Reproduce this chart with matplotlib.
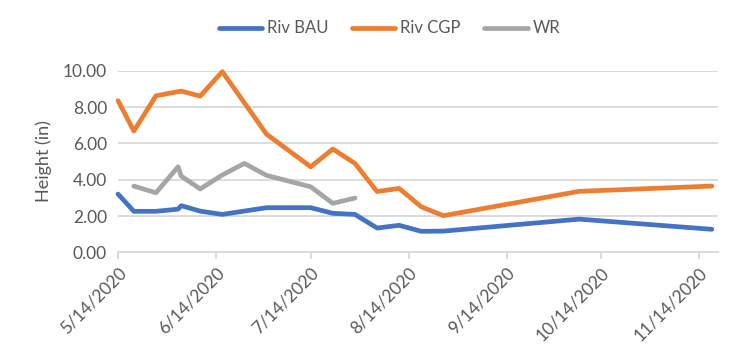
import matplotlib
matplotlib.use("Agg")
import matplotlib.pyplot as plt
import numpy as np
import pandas as pd

# sample dates (shared by all three series)
dates = ["2020-05-14", "2020-05-19", "2020-05-26", "2020-06-02", "2020-06-03",
         "2020-06-09", "2020-06-16", "2020-06-23", "2020-06-30", "2020-07-14",
         "2020-07-21", "2020-07-28", "2020-08-04", "2020-08-11", "2020-08-18",
         "2020-08-25", "2020-10-07", "2020-11-18"]

riv_bau = [3.21, 2.26, 2.26, 2.38, 2.57, 2.27, 2.09, None, 2.46, 2.46,
           2.15, 2.09, 1.34, 1.49, 1.16, 1.17, 1.83, 1.27]
riv_cgp = [8.35, 6.68, 8.62, None, 8.88, 8.60, 9.95, None, 6.51, 4.71,
           5.69, 4.90, 3.35, 3.52, 2.51, 2.02, 3.36, 3.65]
wr = [None, 3.65, 3.28, 4.71, 4.20, 3.49, 4.26, 4.90, 4.24, 3.61,
      2.70, 2.99, None, None, None, None, None, None]

month_ticks = ["2020-05-14", "2020-06-14", "2020-07-14", "2020-08-14",
               "2020-09-14", "2020-10-14", "2020-11-14"]

plt.rcParams['font.family'] = ['Lato', 'DejaVu Sans']
txt = '#595959'
grid = '#D9D9D9'

fig = plt.figure(figsize=(7.52, 3.59), dpi=100)
ax = fig.add_axes([0.157, 0.297, 0.798, 0.506])

d = pd.to_datetime(dates)
for vals, name, col in [(riv_bau, "Riv BAU", "#4472C4"),
                        (riv_cgp, "Riv CGP", "#ED7D31"),
                        (wr, "WR", "#A5A5A5")]:
    keep = [i for i, v in enumerate(vals) if v is not None]
    ax.plot(d[keep], [vals[i] for i in keep], color=col, lw=3.4,
            label=name, solid_capstyle='round', solid_joinstyle='round',
            clip_on=False)

ax.set_ylim(0, 10)
ax.set_yticks(np.arange(0, 10.1, 2))
ax.yaxis.set_major_formatter(matplotlib.ticker.FormatStrFormatter('%.2f'))
ax.set_xlim(pd.Timestamp("2020-05-14"), pd.Timestamp("2020-11-20"))
ticks = pd.to_datetime(month_ticks)
ax.set_xticks(ticks)
ax.set_xticklabels([f"{t.month}/{t.day}/{t.year}" for t in ticks],
                   rotation=45, ha='right', rotation_mode='anchor')

ax.grid(axis='y', color=grid, lw=1.3)
ax.set_axisbelow(True)
for s in ['top', 'right', 'left']:
    ax.spines[s].set_visible(False)
ax.spines['bottom'].set_color(grid)
ax.spines['bottom'].set_linewidth(1.3)
ax.tick_params(axis='y', length=0, labelsize=12.5, labelcolor=txt, pad=8)
ax.tick_params(axis='x', length=5, color=grid, width=1.3, labelsize=12.5,
               labelcolor=txt, pad=4)
ax.set_ylabel("Height (in)", fontsize=13, color=txt, labelpad=8)

fig.legend(loc='upper center', bbox_to_anchor=(0.518, 0.985), ncol=3,
           frameon=False, fontsize=12, handlelength=2.6, columnspacing=1.4,
           handletextpad=0.3, labelcolor=txt)

fig.savefig("out.png", dpi=100)
